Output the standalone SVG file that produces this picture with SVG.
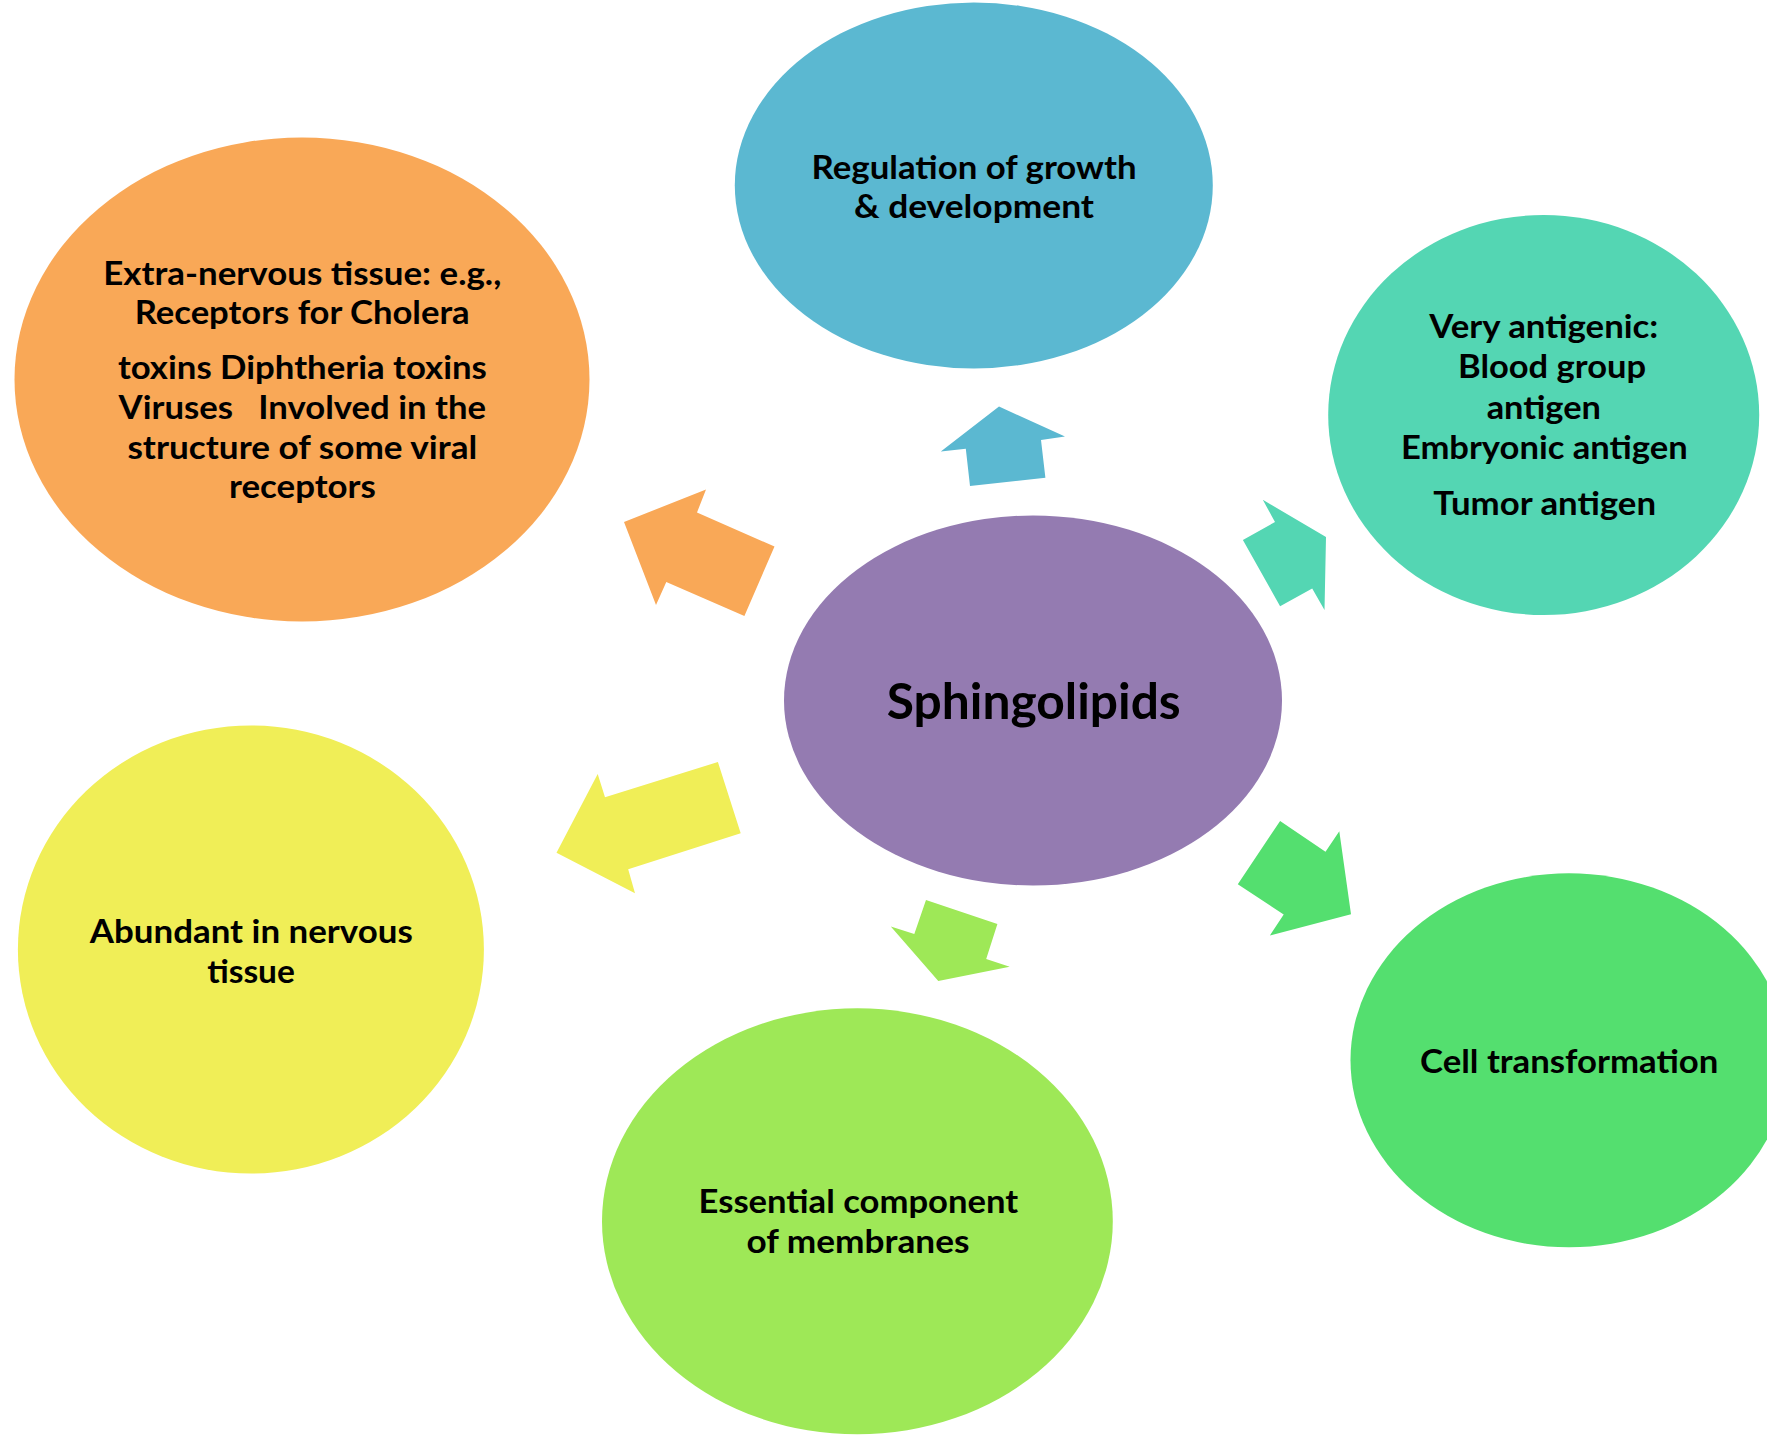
<svg xmlns="http://www.w3.org/2000/svg" width="1767" height="1440" viewBox="0 0 1767 1440">
<style>
text{font-family:Lato,"Liberation Sans",sans-serif;font-weight:bold;fill:#000;text-anchor:middle}
.t{font-size:32px}
.big{font-size:50px}
.purple{fill:#947BB1}
.blue{fill:#5BB8D1}
.orange{fill:#F9A857}
.teal{fill:#54D6B3}
.yellow{fill:#F0EE57}
.lgreen{fill:#9EE857}
.green{fill:#54DF6F}
</style>
<rect width="1767" height="1440" fill="#fff"/>
<g id="connectors">
<polygon class="blue" points="999,406.5 1065,436.5 1041,440 1045.4,477.7 970,486 965.8,448.8 940.8,451.6"/>
<polygon class="orange" points="624,522 706,489.5 697,512.5 774.5,546.5 744.4,616 666.3,582 656,605"/>
<polygon class="teal" points="1262.8,499.8 1326,537 1324.5,610.1 1312.2,588.4 1280.1,606.2 1242.9,540.1 1275,522"/>
<polygon class="yellow" points="556.5,852.7 597.7,774 605,797.3 717.9,762 740.7,833.3 628.2,869.3 635,893.3"/>
<polygon class="lgreen" points="926,900 997.4,924.1 986.2,958.9 1009.7,966.8 938.3,981 890.8,926.5 914.3,934"/>
<polygon class="green" points="1280.1,820.9 1325.5,851.7 1339.3,831.2 1351,914.2 1269.9,935.5 1283.7,914.6 1237.8,884.2"/>
</g>
<g id="center">
<ellipse class="purple" cx="1033" cy="700.5" rx="249" ry="185"/>
<text class="big" x="1033.7" y="719" textLength="294" lengthAdjust="spacingAndGlyphs">Sphingolipids</text>
</g>
<g id="growth">
<ellipse class="blue" cx="973.8" cy="185.5" rx="239" ry="183"/>
<text class="t" x="974" y="179" textLength="325" lengthAdjust="spacingAndGlyphs">Regulation of growth</text>
<text class="t" x="974" y="218.3" textLength="240" lengthAdjust="spacingAndGlyphs">&amp; development</text>
</g>
<g id="extranervous">
<ellipse class="orange" cx="302" cy="379.5" rx="287.5" ry="242"/>
<text class="t" x="302.3" y="285" textLength="398" lengthAdjust="spacingAndGlyphs">Extra-nervous tissue: e.g.,</text>
<text class="t" x="302.2" y="324" textLength="335" lengthAdjust="spacingAndGlyphs">Receptors for Cholera</text>
<text class="t" x="302.4" y="378.7" textLength="369" lengthAdjust="spacingAndGlyphs">toxins Diphtheria toxins</text>
<text class="t" x="302.3" y="418.5" textLength="367.4" lengthAdjust="spacingAndGlyphs" xml:space="preserve">Viruses   Involved in the</text>
<text class="t" x="302.3" y="459" textLength="349.8" lengthAdjust="spacingAndGlyphs">structure of some viral</text>
<text class="t" x="302.4" y="498" textLength="147" lengthAdjust="spacingAndGlyphs">receptors</text>
</g>
<g id="antigenic">
<ellipse class="teal" cx="1543.7" cy="415" rx="215.5" ry="200"/>
<text class="t" x="1543.8" y="338.3" textLength="229" lengthAdjust="spacingAndGlyphs">Very antigenic:</text>
<text class="t" x="1552" y="378.3" textLength="188" lengthAdjust="spacingAndGlyphs">Blood group</text>
<text class="t" x="1543.8" y="418.7" textLength="114.3" lengthAdjust="spacingAndGlyphs">antigen</text>
<text class="t" x="1544.3" y="459.3" textLength="286.7" lengthAdjust="spacingAndGlyphs">Embryonic antigen</text>
<text class="t" x="1544.7" y="515" textLength="222.7" lengthAdjust="spacingAndGlyphs">Tumor antigen</text>
</g>
<g id="nervous">
<ellipse class="yellow" cx="250.9" cy="949.5" rx="233" ry="224"/>
<text class="t" x="251.3" y="942.7" textLength="323" lengthAdjust="spacingAndGlyphs">Abundant in nervous</text>
<text class="t" x="251" y="982.7" textLength="87.7" lengthAdjust="spacingAndGlyphs">tissue</text>
</g>
<g id="membranes">
<ellipse class="lgreen" cx="857.4" cy="1221.3" rx="255.4" ry="213"/>
<text class="t" x="858.3" y="1213.3" textLength="319.5" lengthAdjust="spacingAndGlyphs">Essential component</text>
<text class="t" x="858" y="1252.7" textLength="222.8" lengthAdjust="spacingAndGlyphs">of membranes</text>
</g>
<g id="transformation">
<ellipse class="green" cx="1569" cy="1060.3" rx="218.5" ry="187"/>
<text class="t" x="1569.2" y="1073.3" textLength="298.3" lengthAdjust="spacingAndGlyphs">Cell transformation</text>
</g>
</svg>
